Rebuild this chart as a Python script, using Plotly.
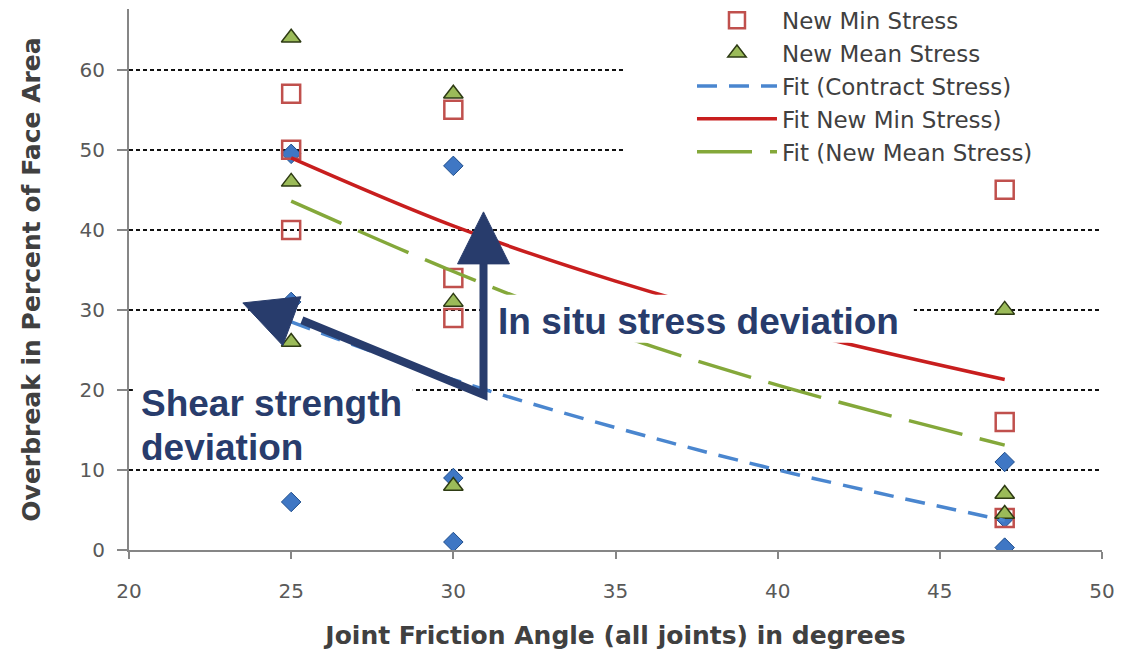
import plotly.graph_objects as go

# ---------------- data ----------------
contract_x = [25, 25, 25, 30, 30, 30, 47, 47, 47]
contract_y = [49.5, 31, 6, 48, 9, 1, 11, 4, 0.3]

min_x = [25, 25, 25, 30, 30, 30, 47, 47, 47]
min_y = [57, 50, 40, 55, 34, 29, 45, 16, 4]

mean_x = [25, 25, 25, 30, 30, 30, 47, 47, 47]
mean_y = [64, 46, 26, 57, 31, 8, 30, 7, 4.5]

fit_x = [25, 30, 35, 40, 47]
fit_contract = [28.5, 21.3, 15.3, 10.0, 3.7]
fit_min = [49.0, 40.5, 33.6, 27.9, 21.3]
fit_mean = [43.6, 34.8, 27.0, 20.6, 13.1]

x_ticks = [20, 25, 30, 35, 40, 45, 50]
y_ticks = [0, 10, 20, 30, 40, 50, 60]

NAVY = "#283C6C"
TICKFONT = dict(family="DejaVu Sans", size=20, color="#595959")
TITLEFONT = dict(family="DejaVu Sans", size=25, color="#404040", weight="bold")

fig = go.Figure()

fig.add_trace(go.Scatter(
    x=contract_x, y=contract_y, mode="markers", name="Contract Stress",
    showlegend=False,
    marker=dict(symbol="diamond", size=15, color="#3F77C4",
                line=dict(color="#1F4E8C", width=1))))

fig.add_trace(go.Scatter(
    x=min_x, y=min_y, mode="markers", name="New Min Stress", legendgroup="a",
    marker=dict(symbol="square-open", size=18, color="#C0504D",
                line=dict(color="#C0504D", width=2.5))))

fig.add_trace(go.Scatter(
    x=mean_x, y=mean_y, mode="markers", name="New Mean Stress", legendgroup="b",
    marker=dict(symbol="triangle-up", size=17, color="#9BBB59",
                line=dict(color="#2E3B14", width=1.5))))

fig.add_trace(go.Scatter(
    x=fit_x, y=fit_contract, mode="lines", name="Fit (Contract Stress)",
    legendgroup="c", line_shape="spline",
    line=dict(color="#4A86CF", width=3.5, dash="20px,12px")))

fig.add_trace(go.Scatter(
    x=fit_x, y=fit_min, mode="lines", name="Fit New Min Stress)",
    legendgroup="d", line_shape="spline",
    line=dict(color="#C81E1E", width=3.5)))

fig.add_trace(go.Scatter(
    x=fit_x, y=fit_mean, mode="lines", name="Fit (New Mean Stress)",
    legendgroup="e", line_shape="spline",
    line=dict(color="#84A83A", width=3.5, dash="55px,18px")))

# ---------------- decorations ----------------
def layered(d, layer):
    d = dict(d)
    d["layer"] = layer
    return d

shapes = []
# white area behind the legend (covers grid lines only)
legend_box = dict(type="rect", xref="x", yref="y", x0=35.3, x1=50, y0=42.5, y1=67.6,
                  fillcolor="white", line=dict(width=0))
try:
    go.layout.Shape(**layered(legend_box, "between"))
    shapes.append(layered(legend_box, "between"))
except Exception:
    shapes.append(layered(legend_box, "below"))

# white text boxes (above traces)
shapes.append(dict(type="rect", xref="x", yref="y", x0=31.0, x1=44.2, y0=25.9, y1=31.9,
                   fillcolor="white", line=dict(width=0), layer="above"))
shapes.append(dict(type="rect", xref="x", yref="y", x0=20.12, x1=28.75, y0=10.25, y1=20.5,
                   fillcolor="white", line=dict(width=0), layer="above"))

# arrow shafts
shapes.append(dict(type="path", xref="x", yref="y",
                   path="M 30.93,36.6 L 30.93,19.4 L 25.33,28.7",
                   line=dict(color=NAVY, width=8), layer="above"))
# arrow heads
shapes.append(dict(type="path", xref="x", yref="y",
                   path="M 30.93,42.25 L 31.73,35.75 L 30.13,35.75 Z",
                   fillcolor=NAVY, line=dict(color=NAVY, width=1), layer="above"))
shapes.append(dict(type="path", xref="x", yref="y",
                   path="M 23.51,30.875 L 25.3,31.65 L 24.74,25.55 Z",
                   fillcolor=NAVY, line=dict(color=NAVY, width=1), layer="above"))

ann_font = dict(family="Liberation Sans", size=37, color=NAVY, weight="bold")
annotations = [
    dict(x=31.3, y=28.6, xref="x", yref="y", text="In situ stress deviation",
         showarrow=False, xanchor="left", yanchor="middle", font=ann_font),
    dict(x=20.3, y=18.3, xref="x", yref="y", text="Shear strength",
         showarrow=False, xanchor="left", yanchor="middle", font=ann_font),
    dict(x=20.3, y=12.8, xref="x", yref="y", text="deviation",
         showarrow=False, xanchor="left", yanchor="middle", font=ann_font),
]

# the page adds an 8 px body margin, so the figure is 8 px smaller on each axis
fig.update_layout(
    width=1116, height=644,
    margin=dict(l=121, r=22, t=1, b=102, autoexpand=False),
    paper_bgcolor="white", plot_bgcolor="white",
    shapes=shapes, annotations=annotations,
    legend=dict(x=0.5786, y=1.019, xref="paper", yref="paper",
                xanchor="left", yanchor="top", itemwidth=80,
                bgcolor="rgba(0,0,0,0)", tracegroupgap=0,
                font=dict(family="DejaVu Sans", size=23, color="#404040")),
)

fig.update_xaxes(
    range=[20, 50], tickvals=x_ticks, ticktext=[str(v) for v in x_ticks],
    showgrid=False, zeroline=False, automargin=False, ticklabeloverflow="allow",
    showline=True, linecolor="#868686", linewidth=2,
    ticks="outside", ticklen=7, tickcolor="#868686", tickwidth=1.5,
    ticklabelstandoff=15, tickfont=TICKFONT,
    title=dict(text="Joint Friction Angle (all joints) in degrees", font=TITLEFONT, standoff=24),
)
fig.update_yaxes(
    range=[0, 67.6], tickvals=y_ticks, ticktext=[str(v) for v in y_ticks],
    showgrid=True, gridcolor="#111111", gridwidth=1.5, griddash="4px,3px",
    zeroline=False, automargin=False,
    showline=True, linecolor="#868686", linewidth=2,
    ticks="outside", ticklen=10, tickcolor="#868686", tickwidth=1.5,
    ticklabelstandoff=8, tickfont=TICKFONT,
    title=dict(text="Overbreak in Percent of Face Area", font=TITLEFONT, standoff=32),
)

fig.write_html("out.html")
